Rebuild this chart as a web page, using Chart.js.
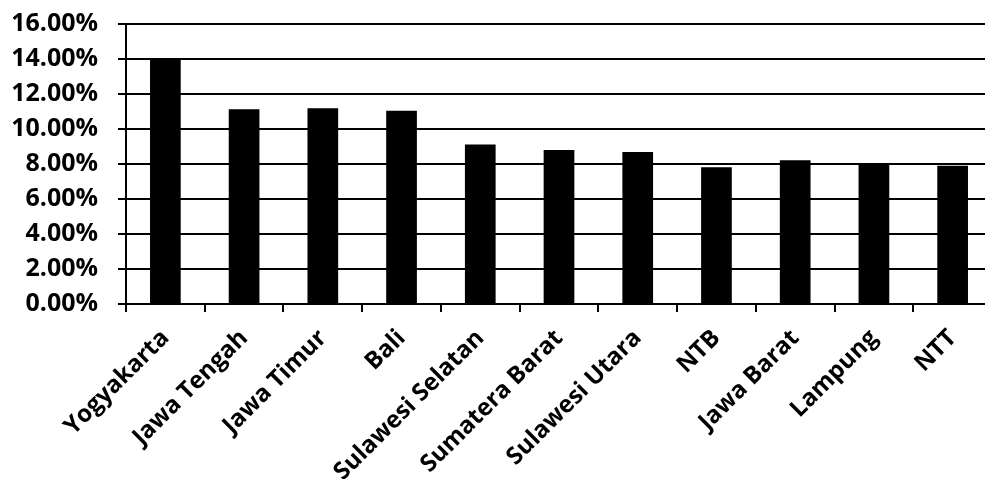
<!DOCTYPE html>
<html>
<head>
<meta charset="utf-8">
<script src="https://cdn.jsdelivr.net/npm/chart.js@4/dist/chart.umd.min.js"></script>
<style>
  html, body { margin: 0; padding: 0; background: #fff; overflow: hidden; }
  #wrap { width: 992px; height: 479px; position: relative; }
</style>
</head>
<body>
<div id="wrap"><canvas id="c"></canvas></div>
<script>
// Provinces and their share (%)
const provinces = ["Yogyakarta", "Jawa Tengah", "Jawa Timur", "Bali", "Sulawesi Selatan",
  "Sumatera Barat", "Sulawesi Utara", "NTB", "Jawa Barat", "Lampung", "NTT"];
const shares = [14.0, 11.13, 11.19, 11.05, 9.12, 8.80, 8.68, 7.82, 8.22, 7.94, 7.90];
const yTicks = [0, 2, 4, 6, 8, 10, 12, 14, 16];

const fontFamily = "'Open Sans', sans-serif";

new Chart(document.getElementById('c'), {
  type: 'bar',
  data: {
    labels: provinces,
    datasets: [{
      data: shares,
      backgroundColor: '#000',
      borderWidth: 0,
      barPercentage: 0.78,
      categoryPercentage: 0.5
    }]
  },
  options: {
    responsive: true,
    maintainAspectRatio: false,
    animation: false,
    layout: { padding: { top: 24, left: 8, right: 0, bottom: 0 } },
    plugins: { legend: { display: false }, tooltip: { enabled: false } },
    scales: {
      x: {
        grid: { display: true, drawOnChartArea: false, drawTicks: true, tickLength: 8,
                color: '#000', lineWidth: 2, offset: true },
        border: { display: true, color: '#000', width: 2 },
        ticks: { color: '#000', minRotation: 45, maxRotation: 45, autoSkip: false,
                 font: { family: fontFamily, size: 24, weight: 'bold' }, padding: 12 },
        afterFit: (s) => { s.height = 175; s.paddingLeft = 0; s.paddingRight = 0; }
      },
      y: {
        min: 0, max: 16,
        afterBuildTicks: (s) => { s.ticks = yTicks.map(v => ({ value: v })); },
        grid: { color: '#000', lineWidth: 2, tickLength: 8 },
        border: { display: true, color: '#000', width: 2 },
        ticks: { color: '#000', padding: 20,
                 font: { family: fontFamily, size: 25, weight: 'bold' },
                 callback: (v) => v.toFixed(2) + '%' },
        afterFit: (s) => { s.width = 118; s.paddingTop = 0; s.paddingBottom = 0; }
      }
    }
  }
});
</script>
</body>
</html>
